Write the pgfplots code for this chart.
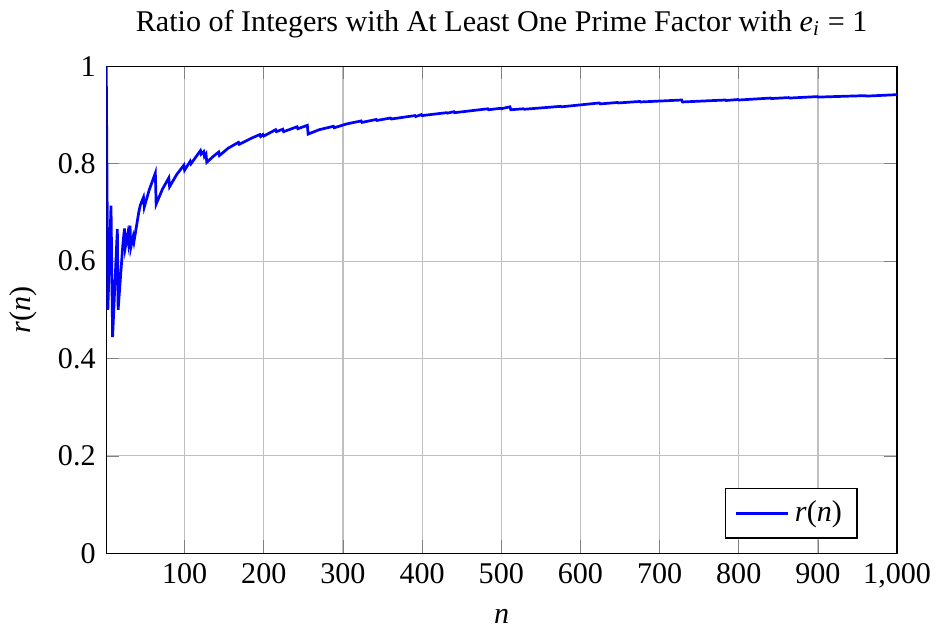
\documentclass[border=0pt]{standalone}
\usepackage{fontspec}
\setmainfont{Liberation Serif}
\usepackage{pgfplots}
\pgfplotsset{compat=1.18}

\begin{document}
\begin{tikzpicture}
\begin{axis}[
    scale only axis,
    width=262.7pt, height=161.7pt,
    xmin=1, xmax=1000,
    ymin=0, ymax=1,
    xtick={100,200,...,1000},
    ytick={0,0.2,...,1},
    /pgf/number format/assume math mode=true,
    grid=major,
    major grid style={gray!50},
    tick align=inside,
    title={Ratio of Integers with At Least One Prime Factor with \textit{e}\textsubscript{\textit{i}} = 1},
    xlabel={\textit{n}},
    ylabel={\textit{r}(\textit{n})},
    legend style={at={(0.95,0.03)}, anchor=south east, draw=black},
    legend cell align=left,
]
\addplot[blue, line width=0.9pt] coordinates {
(1,1) (3,0.5) (7,0.714) (9,0.444) (15,0.666) (16,0.5)
(22,0.635) (24,0.667) (25,0.628) (28,0.655) (29,0.64) (31,0.673) (32,0.628)
(35,0.65) (36,0.64) (40,0.68) (42,0.70) (44,0.715) (48,0.731) (49,0.711)
(55,0.745) (63,0.781) (64,0.717) (72,0.748) (80,0.771) (81,0.753)
(90,0.778) (99,0.797) (100,0.787) (107,0.805) (108,0.80)
(120,0.827) (121,0.82) (124,0.825) (125,0.815) (127,0.82) (128,0.803)
(136,0.815) (143,0.824) (144,0.817) (155,0.832) (168,0.844) (169,0.840)
(185,0.853) (195,0.86) (196,0.856) (199,0.86) (200,0.857)
(215,0.87) (216,0.866) (224,0.871) (225,0.866) (242,0.876) (243,0.872)
(255,0.879) (256,0.861) (270,0.870) (288,0.877) (289,0.874)
(305,0.882) (323,0.888) (324,0.885) (342,0.891) (343,0.889)
(360,0.894) (361,0.892) (391,0.899) (392,0.897) (399,0.901) (400,0.899)
(431,0.905) (432,0.904) (440,0.907) (441,0.905) (483,0.913) (484,0.911)
(499,0.914) (500,0.913) (511,0.917) (512,0.911) (528,0.913) (529,0.912)
(575,0.918) (576,0.917) (624,0.925) (625,0.923) (647,0.926) (648,0.925)
(675,0.928) (676,0.927) (728,0.931) (729,0.927) (783,0.931) (784,0.930)
(799,0.932) (800,0.931) (840,0.935) (841,0.934) (863,0.936) (864,0.935)
(899,0.938) (900,0.937) (960,0.940) (961,0.939) (1000,0.942)
};
\addlegendentry{\textit{r}(\textit{n})}
\end{axis}
\end{tikzpicture}
\end{document}
